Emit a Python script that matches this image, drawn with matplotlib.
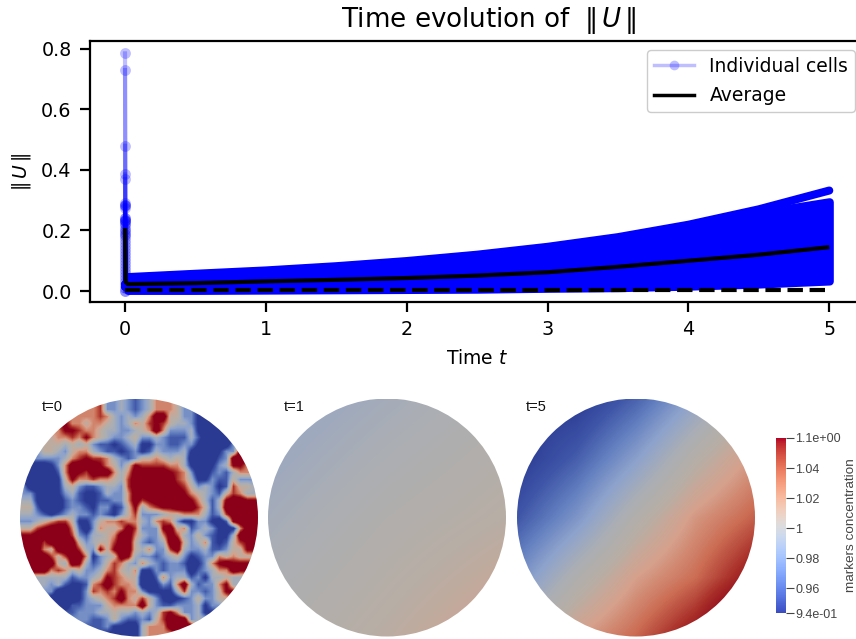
import numpy as np
import matplotlib
matplotlib.use("Agg")
import matplotlib.pyplot as plt
from matplotlib.colors import LinearSegmentedColormap, Normalize
from matplotlib.patches import Circle
from matplotlib.colorbar import ColorbarBase

W, H = 856, 639

# ---- line chart data ----
t_knots = [0.02, 0.5, 1, 1.5, 2, 2.5, 3, 3.5, 4, 4.5, 5]
cell_top = [0.046, 0.057, 0.068, 0.082, 0.099, 0.120, 0.146, 0.178, 0.219, 0.270, 0.332]
cell_second = [0.045, 0.056, 0.067, 0.081, 0.098, 0.119, 0.145, 0.177, 0.217, 0.258, 0.295]
cell_low = [0.002, 0.002, 0.003, 0.004, 0.005, 0.006, 0.009, 0.011, 0.016, 0.023, 0.033]
avg_t = [0, 0.004, 0.02, 0.5, 1, 1.5, 2, 2.5, 3, 3.5, 4, 4.5, 5]
avg_u = [0.208, 0.03, 0.023, 0.026, 0.032, 0.037, 0.043, 0.051, 0.062, 0.080, 0.100, 0.120, 0.145]
low_t = [0, 5]
low_u = [0.002, 0.002]
initial_u = [0.785, 0.73, 0.48, 0.385, 0.37, 0.29, 0.285, 0.285, 0.28, 0.275, 0.24, 0.24, 0.235, 0.235,
             0.23, 0.23, 0.225, 0.22, 0.215, 0.205, 0.2, 0.195, 0.19, 0.185, 0.18, 0.17, 0.16, 0.15,
             0.14, 0.13, 0.12, 0.11, 0.10, 0.09, 0.08, 0.07, 0.06, 0.05, 0.04, 0.03, 0.02, 0.01, 0.0, 0.0]
spike_t = 0.004
spike_end = 0.02
xticks = [0, 1, 2, 3, 4, 5]
yticks = [0.0, 0.2, 0.4, 0.6, 0.8]

# ---- t=0 field: levels 0 (deep blue) .. 9 (deep red), 7 px cells ----
t0_rows = [
    "55555555555555332" "32125555555555555",
    "55555555326753432" "34663635555555555",
    "55555555436764343" "46995532155555555",
    "55555557656654346" "57875443105555555",
    "55555568766544334" "56963334100155555",
    "55555667686543345" "33432224200025555",
    "55559545453221234" "11332233100014555",
    "55545435664322123" "12433341000137655",
    "55333346787764323" "55654540000239955",
    "55101369999865358" "77776641001348965",
    "51000269879996469" "99998763002324635",
    "51000158667665479" "99999764113225335",
    "52000145322344379" "99999875343127533",
    "53100134211243369" "99999986543257643",
    "44100023211223369" "78999998642489985",
    "35200023321331258" "46788999752499997",
    "54321234332321357" "33345566642379998",
    "13456775113566766" "43676311331028999",
    "15789996203655697" "33389562343101699",
    "78999997324456996" "43369743532114998",
    "99979999534557995" "32349953462125786",
    "59965999743858995" "46337943342235545",
    "58997579961345984" "33234531233656535",
    "56999549842357643" "64323320136898855",
    "55796764533467546" "11323330234669945",
    "55344442334587655" "00263442314454555",
    "55533421126797665" "00132694233686355",
    "55524000137676866" "31111473323597555",
    "55551000134567965" "75310123533245555",
    "55555222233356666" "95322333412355555",
    "55555522333445443" "43478633433555555",
    "55555551122235322" "32579997335555555",
    "55555555501111100" "46667998455555555",
    "55555555555510000" "97334555555555555",
]

# t=1 and t=5 fields: coarse grids of the same levels
t1_levels = [[3.2, 3.8, 4.4],
             [3.8, 4.5, 5.0],
             [4.4, 5.1, 5.9]]
t5_levels = [[0.0, 0.0, 1.3, 3.1, 5.0],
             [0.0, 1.2, 2.9, 4.8, 6.2],
             [1.0, 2.6, 4.6, 6.2, 7.2],
             [2.4, 4.4, 6.0, 7.0, 8.6],
             [4.2, 6.0, 7.1, 8.6, 11.0]]
level_colours = ["#2a3a92", "#3f56a8", "#6480c0", "#8ea3cc", "#aaaeb5",
                 "#b8aea5", "#d6a18c", "#cc6e55", "#a82d28", "#8b0018"]

# colourbar
cb_min, cb_max = 0.9435, 1.06
cb_ticks = [0.9435, 0.96, 0.98, 1.0, 1.02, 1.04, 1.06]
cb_labels = ["9.4e-01", "0.96", "0.98", "1", "1.02", "1.04", "1.1e+00"]
panel_labels = ["t=0", "t=1", "t=5"]


def box(x0, y0, x1, y1):
    """pixel box (y down) -> figure fractions"""
    return [x0 / W, 1 - y1 / H, (x1 - x0) / W, (y1 - y0) / H]


fig = plt.figure(figsize=(W / 100, H / 100), dpi=100)
ax = fig.add_axes(box(89.8, 41, 864.5, 302))
blue = "#0000ff"
kw = dict(color=blue, alpha=0.25, lw=3, marker="o", ms=7.8, mew=0)
for u0 in initial_u:
    ax.plot([0, spike_t], [u0, spike_end], **kw)
ax.fill_between(t_knots, cell_low, cell_second, color=blue, lw=5.8, joinstyle="round", capstyle="round")
ax.plot(t_knots, cell_top, color=blue, lw=5.8, solid_capstyle="round", solid_joinstyle="round")
ax.plot([], [], label="Individual cells", color=blue, alpha=0.25, lw=2.5, marker="o", ms=7, mew=0)
ax.plot(avg_t, avg_u, color="black", lw=3, solid_capstyle="butt")
ax.plot([], [], color="black", lw=2.5, label="Average")
ax.plot(low_t, low_u, color="black", lw=3, ls="--")
ax.set_xlim(-0.25, 5.25)
ax.set_ylim(-0.0363, 0.826)
ax.set_xticks(xticks)
ax.set_yticks(yticks)
ax.tick_params(labelsize=13.8, width=1.6, length=7, pad=6)
for s in ax.spines.values():
    s.set_linewidth(1.6)
ax.set_xlabel(r"Time $t$", fontsize=13.5, labelpad=7)
ax.set_ylabel(r"$\Vert\, U\, \Vert$", fontsize=13.5, labelpad=6)
ax.set_title(r"Time evolution of $\;\Vert\, U\, \Vert$", fontsize=18.8, x=0.5151, pad=10)
leg = ax.legend(loc="upper right", bbox_to_anchor=(855 / W, 1 - 50 / H), bbox_transform=fig.transFigure,
                borderaxespad=0, fontsize=13.5, handlelength=2.15, borderpad=0.36, labelspacing=0.55, framealpha=1)

# ---- disks ----
cmap = LinearSegmentedColormap.from_list("disk", level_colours)
t0_levels = np.array([[int(c) for c in row] for row in t0_rows], dtype=float)
n0 = t0_levels.shape[0]
# cells outside the disk take the level of the nearest cell inside it, so the rim stays clean
px = (np.arange(n0) + 0.5) / n0 * 2 - 1
gx, gy = np.meshgrid(px, px)
inside = np.hypot(gx, gy) < 0.94
ix, iy = np.where(inside)
for r, c in zip(*np.where(~inside)):
    k = np.argmin((ix - r) ** 2 + (iy - c) ** 2)
    t0_levels[r, c] = t0_levels[ix[k], iy[k]]

fields = [t0_levels, np.array(t1_levels), np.array(t5_levels)]
ranges = [(1.2, 7.8), (0, 9), (0, 9)]
centres = [139, 387, 636]
label_x = [42, 284, 526]
for f, rng, cx, lab, lx in zip(fields, ranges, centres, panel_labels, label_x):
    a = fig.add_axes(box(cx - 119, 398.5, cx + 119, 636.5))
    n = f.shape[0]
    half = 1.0 if n > 10 else 1 + 1.0 / (n - 1)
    art = a.imshow(f, cmap=cmap, vmin=rng[0], vmax=rng[1], extent=(-half, half, -half, half),
                   interpolation="bilinear", origin="upper")
    art.set_clip_path(Circle((0, 0), 1, transform=a.transData))
    a.set_xlim(-1, 1)
    a.set_ylim(-1, 1)
    a.axis("off")
    fig.text(lx / W, 1 - 407 / H, lab, family="Liberation Sans", fontsize=10.5, va="center", color="#111111")

cax = fig.add_axes(box(776, 438, 786, 613))
cb = ColorbarBase(cax, cmap=plt.get_cmap("coolwarm"), norm=Normalize(cb_min, cb_max), ticks=cb_ticks)
cb.set_ticklabels(cb_labels)
cb.outline.set_visible(False)
cax.tick_params(length=6, width=0.8, color="#444444", labelcolor="#444444", labelsize=9, pad=0.8)
for t in cax.get_yticklabels():
    t.set_family("Liberation Sans")
fig.text(851 / W, 1 - 525 / H, "markers concentration", rotation=90, family="Liberation Sans",
         fontsize=9.7, ha="center", va="center", color="#444444")

fig.savefig("out.png", dpi=100)
